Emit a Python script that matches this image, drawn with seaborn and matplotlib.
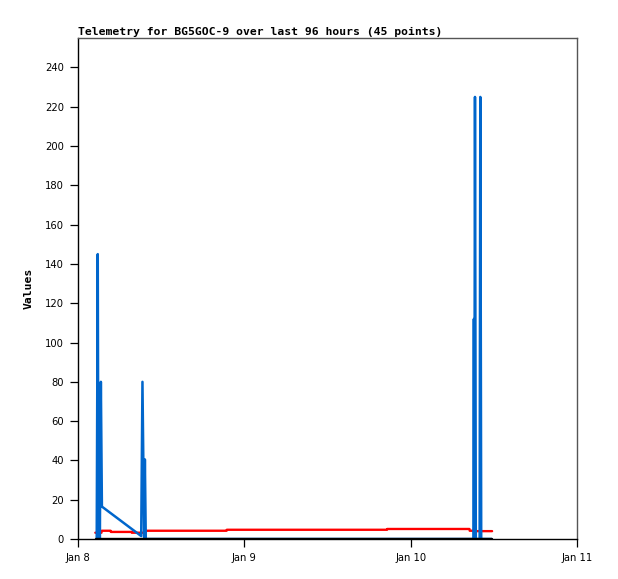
import pandas as pd
import matplotlib
matplotlib.use("Agg")
import matplotlib.pyplot as plt
import matplotlib.dates as mdates
import seaborn as sns

# === Data (hours after Jan 8 00:00) ===
start = pd.Timestamp("2024-01-08 00:00")

blue_hours = [2.70, 2.85, 2.95, 3.08, 3.15, 3.30, 3.45, 9.12, 9.30, 9.55, 9.65, 9.78,
              57.05, 57.12, 57.18, 57.28, 57.40, 57.95, 58.05, 58.18, 59.70]
blue_vals = [0, 145, 0, 72, 0, 80, 16.5, 1.5, 80, 0, 40.5, 0,
             0, 112, 0, 225, 0, 0, 225, 0, 0]

red_hours = [2.50, 3.38, 3.42, 4.70, 4.74, 7.73, 7.77, 9.78, 9.82, 21.44, 21.48,
             44.58, 44.62, 56.48, 56.52, 56.98, 57.02, 59.75]
red_vals = [3.2, 3.2, 4.2, 4.2, 3.6, 3.6, 3.2, 3.2, 4.2, 4.2, 4.7,
            4.7, 5.1, 5.1, 4.2, 4.2, 4.0, 4.0]

black_hours = [2.60, 59.75]
black_vals = [0, 0]

title = "Telemetry for BG5GOC-9 over last 96 hours (45 points)"
y_label = "Values"


def to_frame(hours, vals):
    return pd.DataFrame({"time": start + pd.to_timedelta(hours, unit="h"), "value": vals})


sns.set_style("white")
plt.rcParams["font.family"] = ["DejaVu Sans"]
plt.rcParams["text.color"] = "black"

fig = plt.figure(figsize=(6.18, 5.79), dpi=100)
ax = fig.add_axes([78 / 618, 1 - 539 / 579, (577 - 78) / 618, (539 - 38) / 579])

sns.lineplot(data=to_frame(red_hours, red_vals), x="time", y="value", ax=ax,
             color="#ff0000", linewidth=1.7, estimator=None, sort=False, zorder=2)
sns.lineplot(data=to_frame(blue_hours, blue_vals), x="time", y="value", ax=ax,
             color="#0066cc", linewidth=1.8, estimator=None, sort=False, zorder=3)
sns.lineplot(data=to_frame(black_hours, black_vals), x="time", y="value", ax=ax,
             color="black", linewidth=1.7, estimator=None, sort=False, zorder=4)

ax.set_xlim(start, start + pd.Timedelta(days=3))
ax.set_ylim(0, 255)
ax.set_yticks(range(0, 241, 20))
ax.xaxis.set_major_locator(mdates.DayLocator())
ax.xaxis.set_major_formatter(mdates.DateFormatter("%b %-d"))

ax.tick_params(axis="both", direction="out", length=5.5, width=0.9, colors="black",
               labelsize=7.2, pad=4.5)
ax.tick_params(axis="both", left=True, bottom=True)

for side in ["left", "bottom"]:
    ax.spines[side].set_color("black")
    ax.spines[side].set_linewidth(1)
for side in ["top", "right"]:
    ax.spines[side].set_color("#555555")
    ax.spines[side].set_linewidth(1)

ax.set_xlabel("")
ax.set_ylabel(y_label, family="DejaVu Sans Mono", fontweight="bold", fontsize=8.2,
              color="black", labelpad=8)
ax.set_title(title, family="DejaVu Sans Mono", fontweight="bold", fontsize=8.2,
             color="black", loc="left", pad=2)

plt.savefig("out.png", dpi=100)
